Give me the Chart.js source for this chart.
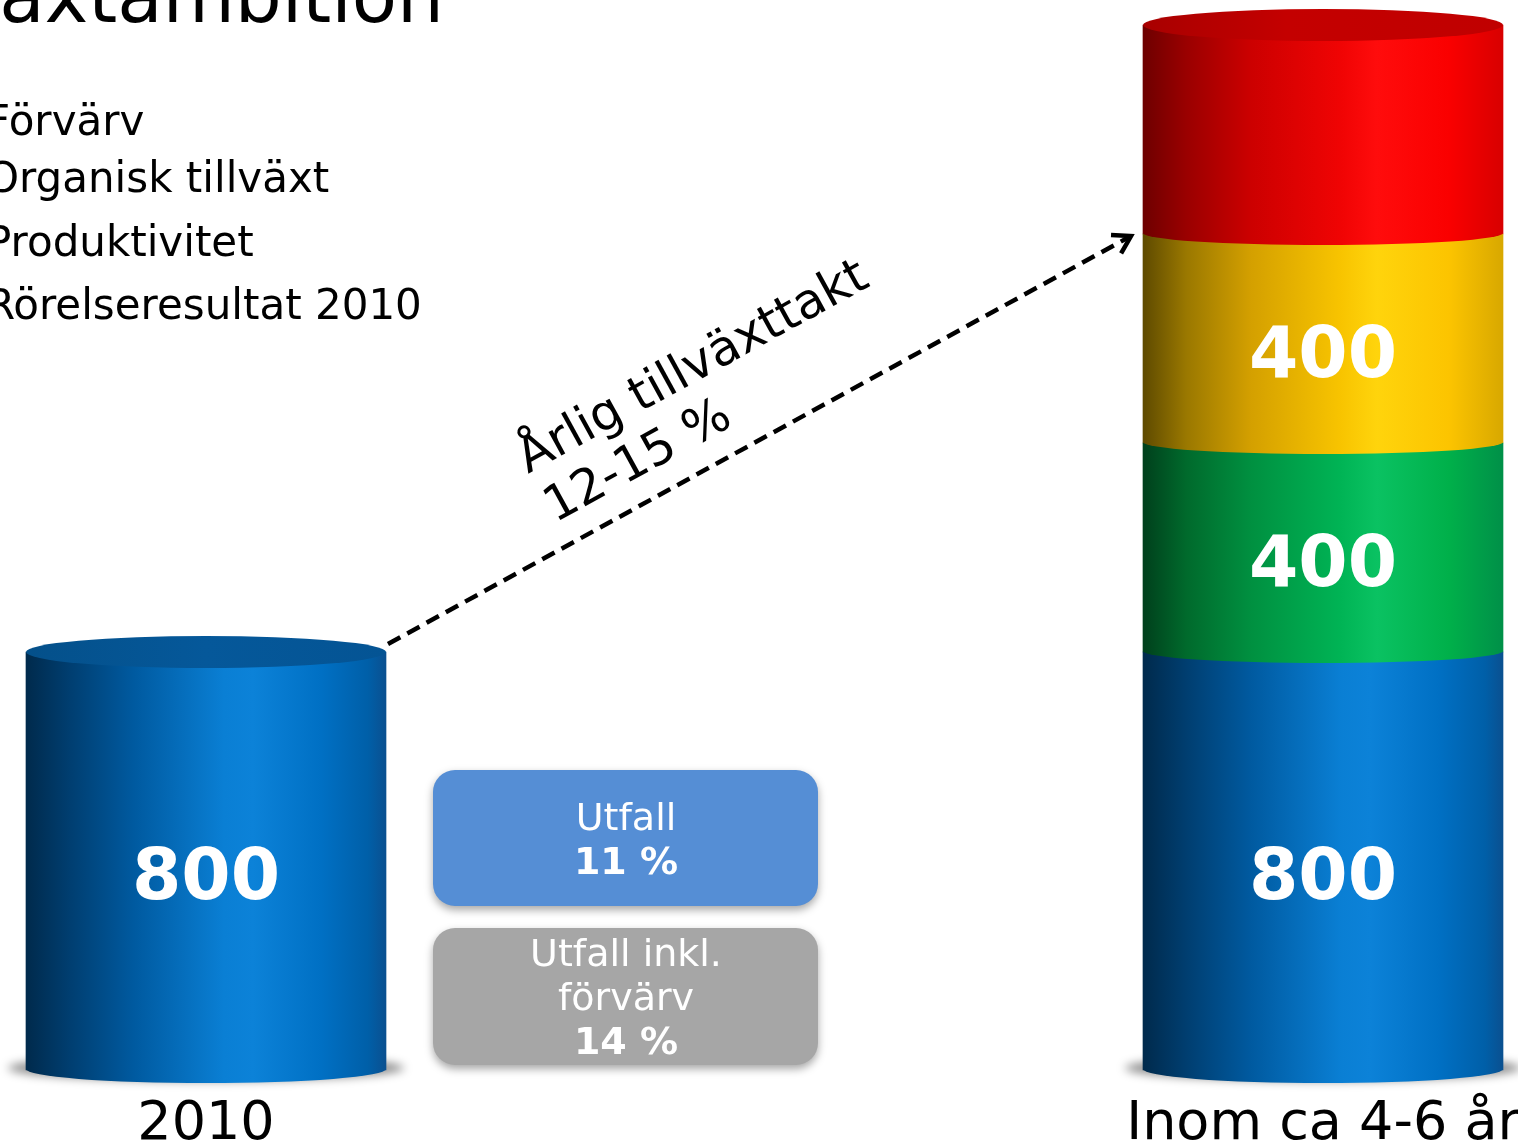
<!DOCTYPE html>
<html>
<head>
<meta charset="utf-8">
<script src="https://cdn.jsdelivr.net/npm/chart.js@4.4.1/dist/chart.umd.min.js"></script>
<style>
  html, body { margin: 0; padding: 0; background: #fff; overflow: hidden; }
  #wrap { width: 1518px; height: 1147px; }
</style>
</head>
<body>
<div id="wrap"><canvas id="chart" width="1518" height="1147"></canvas></div>
<script>
// data
const categories = ["2010", "", "Inom ca 4-6 år"];
const rorelseresultat = [800, null, 800];
const produktivitet = [null, null, 400];
const organiskTillvaxt = [null, null, 400];
const forvarv = [null, null, 400];
const seriesNames = ["Rörelseresultat 2010", "Produktivitet", "Organisk tillväxt", "Förvärv"];
const showValue = [true, true, true, false];
const titleText = "Tillväxtambition";
const growthText = ["Årlig tillväxttakt", "12-15 %"];
const outcomeLines = ["Utfall", "11 %"];
const outcomeAcqLines = ["Utfall inkl.", "förvärv", "14 %"];

const FONT = "'DejaVu Sans', Verdana, sans-serif";

// horizontal shading for each cylinder colour
const shades = {
  blue: [[0, "#002a4c"], [0.12, "#003e70"], [0.3, "#005aa0"], [0.55, "#0a7fd4"], [0.63, "#0c82d8"], [0.82, "#0070c4"], [0.95, "#005fa8"], [1, "#0a5090"]],
  green: [[0, "#00401c"], [0.12, "#006a2c"], [0.3, "#009040"], [0.55, "#00b455"], [0.65, "#0ac262"], [0.85, "#00b04a"], [1, "#009048"]],
  yellow: [[0, "#5e4a00"], [0.12, "#9a7800"], [0.3, "#d4a000"], [0.55, "#f8c400"], [0.65, "#ffd40c"], [0.85, "#fcc400"], [1, "#d8a800"]],
  red: [[0, "#6e0000"], [0.12, "#9a0000"], [0.3, "#cc0000"], [0.55, "#f00404"], [0.65, "#ff0c0c"], [0.85, "#fa0000"], [1, "#d80000"]],
};
const lidShades = {
  blue: [[0, "#04508a"], [0.5, "#05589a"], [1, "#045494"]],
  red: [[0, "#a80000"], [0.4, "#c40000"], [1, "#c00000"]],
};
const BAR_W = 360;

function gradientAt(ctx, x, stops) {
  const g = ctx.createLinearGradient(x - BAR_W / 2, 0, x + BAR_W / 2, 0);
  stops.forEach(([o, col]) => g.addColorStop(o, col));
  return g;
}

function shade(name) {
  return (c) => {
    const chart = c.chart;
    const sx = chart.scales && chart.scales.x;
    const x = sx ? sx.getPixelForValue(c.dataIndex) : NaN;
    if (!isFinite(x)) return shades[name][4][1];
    return gradientAt(chart.ctx, x, shades[name]);
  };
}

function ellipse(ctx, x, y, rx, ry, start, end) {
  ctx.beginPath();
  ctx.ellipse(x, y, rx, ry, 0, start, end);
  ctx.closePath();
}

const cylinders = {
  id: "cylinders",
  beforeDatasetsDraw(chart) {
    const ctx = chart.ctx;
    const meta = chart.getDatasetMeta(0);
    meta.data.forEach((bar, i) => {
      if (chart.data.datasets[0].data[i] == null) return;
      ctx.save();
      ctx.filter = "blur(5px)";
      ctx.fillStyle = "rgba(0,0,0,0.45)";
      ellipse(ctx, bar.x, bar.base - 2, bar.width / 2 + 18, 13, 0, Math.PI * 2);
      ctx.fill();
      ctx.restore();
    });
  },
  afterDatasetsDraw(chart) {
    const ctx = chart.ctx;
    const sets = chart.data.datasets;
    // bulges at the bottom of every segment
    sets.forEach((ds, d) => {
      const meta = chart.getDatasetMeta(d);
      meta.data.forEach((bar, i) => {
        if (ds.data[i] == null) return;
        ctx.save();
        ctx.fillStyle = bar.options.backgroundColor;
        ellipse(ctx, bar.x, bar.base - 1, bar.width / 2, d === 0 ? 14 : 12, 0, Math.PI);
        ctx.fill();
        ctx.restore();
      });
    });
    // top lids
    categories.forEach((c, i) => {
      let top = -1;
      sets.forEach((ds, d) => { if (ds.data[i] != null) top = d; });
      if (top < 0) return;
      const bar = chart.getDatasetMeta(top).data[i];
      ctx.save();
      ctx.fillStyle = gradientAt(ctx, bar.x, lidShades[sets[top].shadeName] || [[0, "#333"], [1, "#333"]]);
      ellipse(ctx, bar.x, bar.y, bar.width / 2, 16, 0, Math.PI * 2);
      ctx.fill();
      ctx.restore();
    });
    // values
    sets.forEach((ds, d) => {
      if (!showValue[d]) return;
      const meta = chart.getDatasetMeta(d);
      meta.data.forEach((bar, i) => {
        if (ds.data[i] == null) return;
        ctx.save();
        ctx.fillStyle = "#fff";
        ctx.font = "bold 71px " + FONT;
        ctx.textAlign = "center";
        ctx.textBaseline = "middle";
        ctx.fillText(String(ds.data[i]), bar.x, (bar.y + bar.base) / 2 + 20);
        ctx.restore();
      });
    });
  },
  afterDraw(chart) {
    const ctx = chart.ctx;
    ctx.save();
    // title (cut at top edge)
    ctx.fillStyle = "#000";
    ctx.font = "74px " + FONT;
    ctx.textAlign = "right";
    ctx.textBaseline = "alphabetic";
    ctx.fillText(titleText, 444, 22);

    // legend texts, top to bottom
    ctx.font = "42px " + FONT;
    ctx.textAlign = "left";
    const names = seriesNames.slice().reverse();
    const baselines = [135, 192, 256, 319];
    names.forEach((n, k) => ctx.fillText(n, -14, baselines[k]));

    // dashed growth arrow
    const a = chart.getDatasetMeta(0).data[0];
    const b = chart.getDatasetMeta(3).data[2];
    const x0 = a.x + a.width / 2 + 2, y0 = a.y - 8;
    const x1 = b.x - b.width / 2 - 12, y1 = b.base + 2;
    ctx.strokeStyle = "#000";
    ctx.lineWidth = 4.5;
    ctx.setLineDash([14, 8]);
    ctx.beginPath();
    ctx.moveTo(x0, y0);
    ctx.lineTo(x1, y1);
    ctx.stroke();
    ctx.setLineDash([]);
    const ang = Math.atan2(y1 - y0, x1 - x0);
    ctx.beginPath();
    ctx.moveTo(x1 - 20 * Math.cos(ang - 0.55), y1 - 20 * Math.sin(ang - 0.55));
    ctx.lineTo(x1, y1);
    ctx.lineTo(x1 - 20 * Math.cos(ang + 0.55), y1 - 20 * Math.sin(ang + 0.55));
    ctx.stroke();

    // rotated label, left aligned
    ctx.save();
    ctx.translate(528, 474);
    ctx.rotate(ang);
    ctx.font = "49px " + FONT;
    ctx.textAlign = "left";
    ctx.textBaseline = "alphabetic";
    ctx.fillText(growthText[0], 0, 0);
    ctx.fillText(growthText[1], 0, 56);
    ctx.restore();

    // outcome boxes
    const drawBox = (y, h, color, lines) => {
      ctx.save();
      ctx.shadowColor = "rgba(0,0,0,0.35)";
      ctx.shadowBlur = 8;
      ctx.shadowOffsetY = 4;
      ctx.fillStyle = color;
      ctx.beginPath();
      ctx.roundRect(433, y, 385, h, 22);
      ctx.fill();
      ctx.restore();
      ctx.fillStyle = "#fff";
      ctx.textAlign = "center";
      ctx.textBaseline = "middle";
      const start = y + h / 2 + 4 - (lines.length - 1) * 22;
      lines.forEach((t, k) => {
        ctx.font = (k === lines.length - 1 ? "bold " : "") + "38px " + FONT;
        ctx.fillText(t, 626, start + k * 44);
      });
    };
    drawBox(770, 136, "#558ed5", outcomeLines);
    drawBox(928, 137, "#a6a6a6", outcomeAcqLines);
    ctx.restore();
  },
};

const datasets = [
  { label: seriesNames[0], data: rorelseresultat, shadeName: "blue" },
  { label: seriesNames[1], data: produktivitet, shadeName: "green" },
  { label: seriesNames[2], data: organiskTillvaxt, shadeName: "yellow" },
  { label: seriesNames[3], data: forvarv, shadeName: "red" },
].map((d) => ({
  ...d,
  backgroundColor: shade(d.shadeName),
  borderWidth: 0,
  barThickness: BAR_W,
  clip: false,
}));

new Chart(document.getElementById("chart"), {
  type: "bar",
  data: { labels: categories, datasets: datasets },
  options: {
    responsive: false,
    animation: false,
    devicePixelRatio: 1,
    layout: { padding: { left: 206, right: 195, top: 25, bottom: 7 } },
    plugins: { legend: { display: false }, tooltip: { enabled: false } },
    scales: {
      x: {
        stacked: true,
        offset: false,
        grid: { display: false, drawTicks: false },
        border: { display: false },
        ticks: { color: "#000", font: { family: FONT, size: 54 }, padding: 23, maxRotation: 0, autoSkip: false },
        afterFit: (s) => { s.height = 70; s.paddingLeft = 0; s.paddingRight = 0; },
      },
      y: {
        stacked: true,
        display: false,
        min: 0,
        max: 2000,
      },
    },
  },
  plugins: [cylinders],
});
</script>
</body>
</html>
